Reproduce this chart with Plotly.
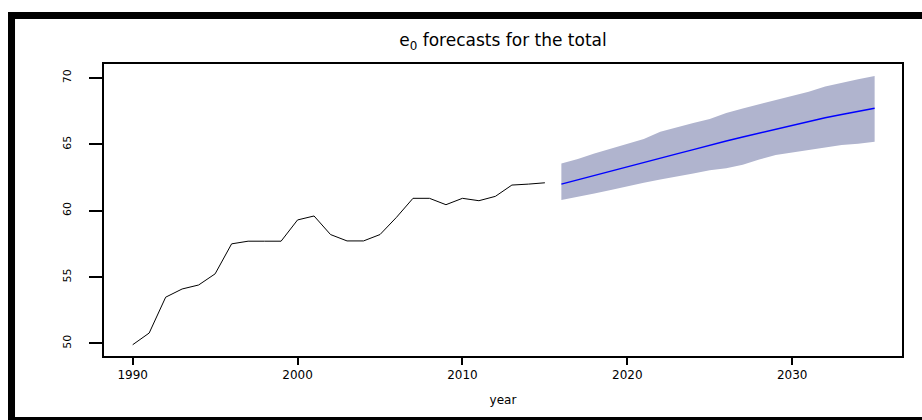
import plotly.graph_objects as go

# Observed life expectancy at birth (e0), total population
obs_years = list(range(1990, 2016))
obs_e0 = [49.9, 50.78, 53.48, 54.1, 54.4, 55.24, 57.5, 57.7, 57.7, 57.7,
          59.3, 59.6, 58.2, 57.72, 57.72, 58.2, 59.5, 60.93, 60.93, 60.45,
          60.93, 60.75, 61.08, 61.93, 62.0, 62.1]

# Forecast: median and prediction interval bounds
fc_years = list(range(2016, 2036))
fc_median = [62.0, 62.33, 62.68, 63.0, 63.3, 63.65, 63.97, 64.28, 64.6, 64.95,
             65.25, 65.55, 65.85, 66.15, 66.45, 66.75, 67.0, 67.25, 67.5, 67.72]
fc_upper = [63.56, 63.9, 64.3, 64.65, 65.0, 65.4, 65.95, 66.3, 66.6, 66.9,
            67.35, 67.7, 68.0, 68.3, 68.6, 68.95, 69.35, 69.65, 69.9, 70.15]
fc_lower = [60.8, 61.05, 61.3, 61.55, 61.8, 62.1, 62.35, 62.6, 62.8, 63.05,
            63.2, 63.45, 63.85, 64.2, 64.4, 64.55, 64.75, 64.95, 65.05, 65.2]

x_ticks = [1990, 2000, 2010, 2020, 2030]
y_ticks = [50, 55, 60, 65, 70]

band_color = "rgb(176,180,206)"
font_family = "DejaVu Sans, sans-serif"

fig = go.Figure()

# Prediction interval band
fig.add_trace(go.Scatter(
    x=fc_years + fc_years[::-1],
    y=fc_upper + fc_lower[::-1],
    fill="toself", fillcolor=band_color,
    line=dict(width=0), mode="lines", hoverinfo="skip", showlegend=False,
))

# Observed series
fig.add_trace(go.Scatter(
    x=obs_years, y=obs_e0, mode="lines",
    line=dict(color="black", width=1), showlegend=False,
))

# Forecast median
fig.add_trace(go.Scatter(
    x=fc_years, y=fc_median, mode="lines",
    line=dict(color="rgb(0,0,255)", width=1.5), showlegend=False,
))

# Outer frame bars (left, top, bottom)
frame = dict(type="rect", xref="paper", yref="paper",
             fillcolor="black", line=dict(width=0), layer="above")
fig.add_shape(**frame, x0=-0.1203, x1=-0.1115, y0=-0.25, y1=1.178)
fig.add_shape(**frame, x0=-0.1203, x1=1.05, y0=1.1541, y1=1.1781)
fig.add_shape(**frame, x0=-0.1203, x1=1.05, y0=-0.2363, y1=-0.2089)

fig.update_layout(
    width=922, height=420,
    margin=dict(l=104, r=20, t=64, b=64),
    paper_bgcolor="white", plot_bgcolor="white",
    title=dict(text="e<sub>0</sub> forecasts for the total",
               x=0.5, xref="paper", xanchor="center",
               y=1 - 40 / 420, yanchor="middle",
               font=dict(family=font_family, size=17, color="black")),
    font=dict(family=font_family, color="black"),
)

fig.update_xaxes(
    range=[1988.26, 2036.66],
    tickmode="array", tickvals=x_ticks, ticktext=[str(v) for v in x_ticks],
    ticks="outside", ticklen=7, tickwidth=1.5, tickcolor="black",
    tickfont=dict(family=font_family, size=12),
    showgrid=False, zeroline=False,
    showline=True, linecolor="black", linewidth=2, mirror=True,
    title=dict(text="year", font=dict(family=font_family, size=12),
               standoff=14),
)

fig.update_yaxes(
    range=[49.05, 71.05],
    tickmode="array", tickvals=y_ticks, ticktext=[str(v) for v in y_ticks],
    tickangle=-90, ticklabelstandoff=14,
    ticks="outside", ticklen=13, tickwidth=1.5, tickcolor="black",
    tickfont=dict(family=font_family, size=11),
    showgrid=False, zeroline=False,
    showline=True, linecolor="black", linewidth=1.5, mirror=True,
)

fig.write_html("out.html")
